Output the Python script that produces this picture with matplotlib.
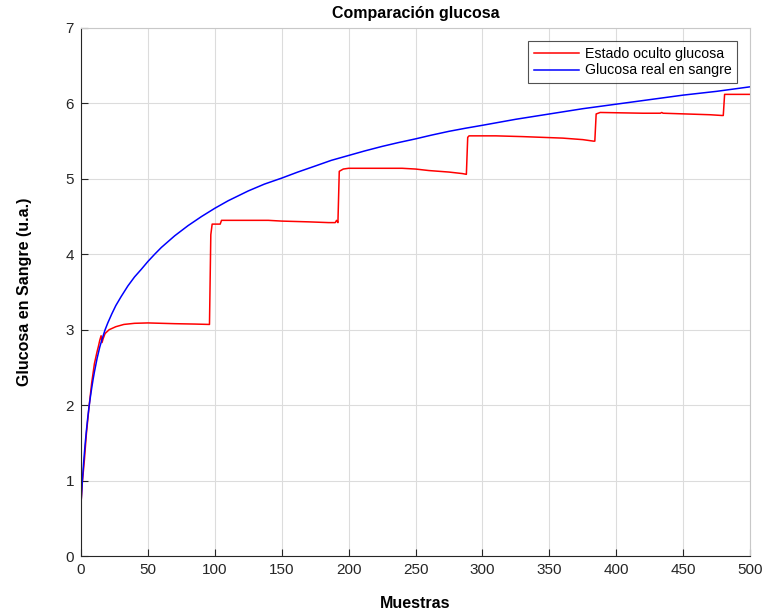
import matplotlib
matplotlib.use("Agg")
import matplotlib.pyplot as plt

plt.rcParams['font.family'] = ['Liberation Sans', 'DejaVu Sans']

# Blood glucose (blue) sampled along the curve
real_x = [0, 1, 2, 3, 4, 5, 6, 7, 8, 9, 10, 12, 14, 16, 18, 20, 23, 26, 30, 35, 40, 45,
          50, 55, 60, 70, 80, 90, 100, 110, 125, 137, 150, 162, 175, 187, 200, 212, 225,
          237, 250, 262, 275, 287, 300, 325, 350, 375, 400, 425, 450, 475, 500]
real_y = [0.70, 1.00, 1.25, 1.47, 1.66, 1.83, 1.98, 2.11, 2.23, 2.34, 2.44, 2.62, 2.77,
          2.89, 3.00, 3.09, 3.21, 3.32, 3.44, 3.58, 3.70, 3.80, 3.905, 4.00, 4.09, 4.245,
          4.38, 4.50, 4.61, 4.71, 4.84, 4.93, 5.01, 5.09, 5.17, 5.245, 5.31, 5.37, 5.43,
          5.48, 5.53, 5.58, 5.63, 5.67, 5.71, 5.79, 5.86, 5.93, 5.99, 6.05, 6.11, 6.16,
          6.22]

# Estimated hidden glucose state (red)
est_x = [0, 1, 2.5, 4, 6, 8, 10, 12, 13, 14, 15, 15.7, 16.5, 18, 21, 26, 32, 40, 50, 70,
         85, 96, 97, 98, 104, 105, 120, 140, 150, 170, 185, 190, 191, 192, 193, 196, 200,
         240, 250, 260, 275, 285, 288, 289, 290, 310, 330, 360, 375, 383, 384, 385, 388,
         420, 433, 434, 435, 470, 479, 480, 481, 500]
est_y = [0.70, 0.98, 1.27, 1.62, 1.98, 2.30, 2.55, 2.71, 2.78, 2.86, 2.92, 2.83, 2.88,
         2.95, 3.00, 3.04, 3.07, 3.085, 3.09, 3.08, 3.075, 3.07, 4.26, 4.40, 4.40, 4.45,
         4.45, 4.45, 4.44, 4.43, 4.42, 4.42, 4.45, 4.42, 5.10, 5.13, 5.14, 5.14, 5.13,
         5.11, 5.09, 5.07, 5.06, 5.55, 5.57, 5.57, 5.56, 5.54, 5.52, 5.50, 5.50, 5.86,
         5.88, 5.87, 5.87, 5.88, 5.87, 5.85, 5.84, 5.84, 6.12, 6.12]

x_ticks = list(range(0, 501, 50))
y_ticks = list(range(0, 8))

fig = plt.figure(figsize=(7.63, 6.15), dpi=100)
ax = fig.add_axes([0.1062, 0.0959, 0.8768, 0.8586])

ax.plot(est_x, est_y, color=(1, 0, 0), lw=1.1, label='Estado oculto glucosa')
ax.plot(real_x, real_y, color=(0, 0, 1), lw=1.1, label='Glucosa real en sangre')

ax.set_xlim(0, 500)
ax.set_ylim(0, 7)
ax.set_xticks(x_ticks)
ax.set_yticks(y_ticks)
ax.tick_params(direction='in', length=5, width=0.8, colors='#262626',
               labelsize=11, labelcolor='#262626', pad=5)
ax.grid(True, color='#dcdcdc', lw=0.8)
ax.set_axisbelow(True)
for s in ax.spines.values():
    s.set_color('#262626')
    s.set_linewidth(0.8)
ax.spines['top'].set_color('#c8c8c8')
ax.spines['right'].set_color('#c8c8c8')

ax.set_title('Comparación glucosa', fontsize=11.5, fontweight='bold', pad=7)
ax.set_xlabel('Muestras', fontsize=11.5, fontweight='bold', labelpad=14)
ax.set_ylabel('Glucosa en Sangre (u.a.)', fontsize=11.5, fontweight='bold', labelpad=24)

leg = ax.legend(loc='upper right', fontsize=10.2, frameon=True, fancybox=False,
                edgecolor='#262626', handlelength=3.2, handletextpad=0.4,
                borderpad=0.4, labelspacing=0.2, borderaxespad=0,
                bbox_to_anchor=(0.9806, 0.9754))
leg.get_frame().set_linewidth(0.8)

fig.savefig('out.png', dpi=100)
